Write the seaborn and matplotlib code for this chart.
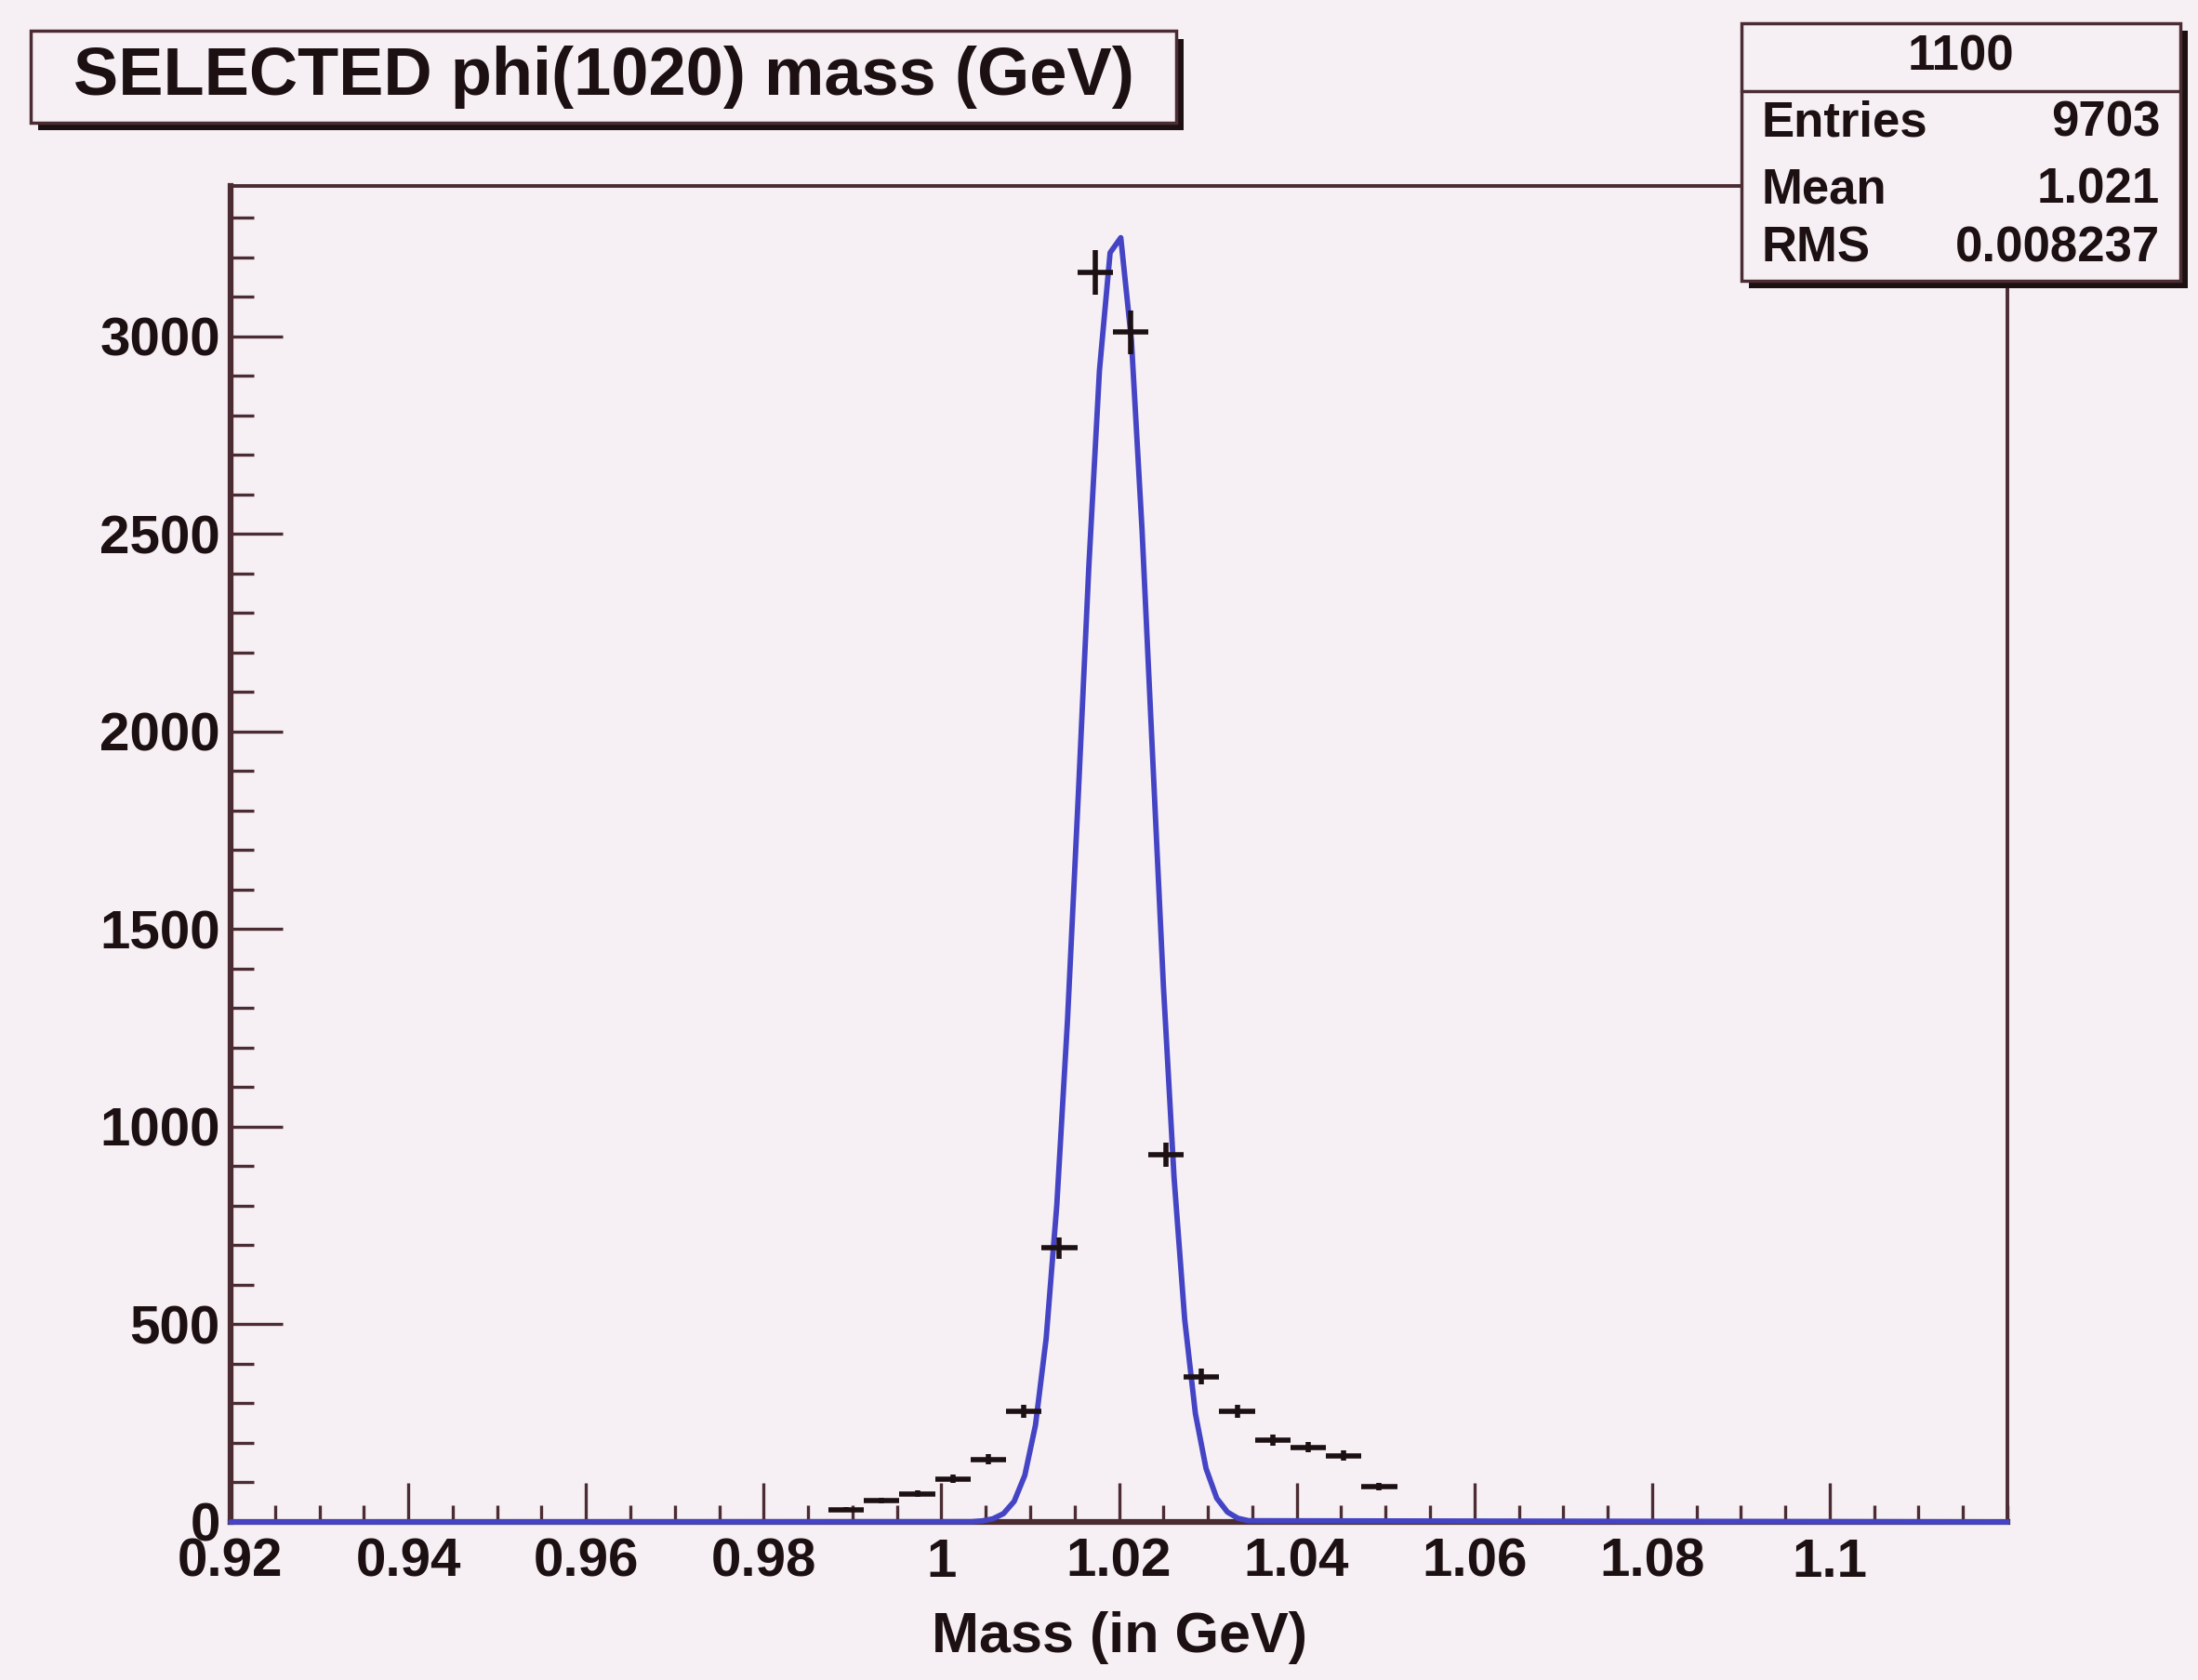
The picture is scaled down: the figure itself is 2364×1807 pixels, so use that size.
import numpy as np
import pandas as pd
import matplotlib
matplotlib.use("Agg")
import matplotlib.pyplot as plt
from matplotlib.patches import Rectangle
from matplotlib.ticker import MultipleLocator
import seaborn as sns

# ---------------- data ----------------
bin_centers = [0.9893, 0.9933, 0.9973, 1.0013, 1.0053, 1.0093, 1.0133, 1.0173,
               1.0213, 1.0253, 1.0293, 1.0333, 1.0373, 1.0413, 1.0453, 1.0493]
bin_counts = [31, 54, 71, 109, 158, 280, 693, 3162,
              3011, 930, 368, 279, 207, 189, 168, 89]
bin_halfwidth = 0.002

curve_x = [0.92, 1.0034, 1.0046, 1.0058, 1.0070, 1.0082, 1.0094, 1.0106, 1.0118,
           1.0130, 1.0142, 1.0154, 1.0166, 1.0178, 1.0190, 1.0202, 1.0214,
           1.0226, 1.0238, 1.0250, 1.0262, 1.0274, 1.0286, 1.0298, 1.0310,
           1.0322, 1.0334, 1.0346, 1.12]
curve_y = [0, 0.5, 2.6, 7.8, 21, 52, 118, 245, 464,
           802, 1268, 1830, 2416, 2914, 3212, 3250, 2990,
           2508, 1929, 1356, 871, 511, 274, 135, 60,
           25, 9, 3, 0]

title_text = "SELECTED phi(1020) mass (GeV)"
xlabel_text = "Mass (in GeV)"
stats_name = "1100"
stats_rows = [("Entries", "9703"), ("Mean", "1.021"), ("RMS", "0.008237")]

xtick_values = [0.92, 0.94, 0.96, 0.98, 1.00, 1.02, 1.04, 1.06, 1.08, 1.10]
xtick_labels = ["0.92", "0.94", "0.96", "0.98", "1", "1.02", "1.04", "1.06", "1.08", "1.1"]
ytick_values = [0, 500, 1000, 1500, 2000, 2500, 3000]

# ---------------- style ----------------
sns.set_theme(style="ticks")
plt.rcParams['font.family'] = ['Liberation Sans', 'DejaVu Sans']
plt.rcParams['font.weight'] = 'bold'

BG = '#f6f0f5'
INK = '#1c1012'
FRAME = '#4a2c32'
BLUE = '#4444c4'

fig = plt.figure(figsize=(23.64, 18.07), dpi=100, facecolor=BG)
ax = fig.add_axes([0.1049, 0.0941, 0.8084, 0.7950], facecolor=BG)

df_curve = pd.DataFrame({"mass": curve_x, "fit": curve_y})
sns.lineplot(data=df_curve, x="mass", y="fit", ax=ax, color=BLUE, lw=4.2,
             estimator=None, sort=False)
for ln in ax.lines:
    ln.set_zorder(6)
    ln.set_clip_on(False)

ax.errorbar(bin_centers, bin_counts, xerr=bin_halfwidth, yerr=np.sqrt(bin_counts),
            fmt='none', ecolor=INK, elinewidth=4.0, capsize=0, zorder=7)

ax.set_xlim(0.92, 1.12)
ax.set_ylim(0, 3380)

# spines
for side in ['top', 'right']:
    ax.spines[side].set_visible(True)
    ax.spines[side].set_color(FRAME)
    ax.spines[side].set_linewidth(2.8)
for side in ['left', 'bottom']:
    ax.spines[side].set_color(FRAME)
    ax.spines[side].set_linewidth(4.5)
    ax.spines[side].set_zorder(2)

ax.set_xticks(xtick_values)
ax.set_xticklabels(xtick_labels)
ax.xaxis.set_minor_locator(MultipleLocator(0.005))
ax.set_yticks(ytick_values)
ax.set_yticklabels([str(v) for v in ytick_values])
ax.yaxis.set_minor_locator(MultipleLocator(100))

ax.tick_params(axis='x', which='major', direction='in', length=30, width=2.4,
               color=FRAME, labelsize=42, labelcolor=INK, pad=12,
               bottom=True, top=False)
ax.tick_params(axis='x', which='minor', direction='in', length=13, width=2.4,
               color=FRAME, bottom=True, top=False)
ax.tick_params(axis='y', which='major', direction='in', length=40, width=2.4,
               color=FRAME, labelsize=42, labelcolor=INK, pad=8,
               left=True, right=False)
ax.tick_params(axis='y', which='minor', direction='in', length=18, width=2.4,
               color=FRAME, left=True, right=False)
for lab in ax.get_xticklabels() + ax.get_yticklabels():
    lab.set_fontweight('bold')

ax.set_xlabel(xlabel_text, fontsize=44, fontweight='bold', color=INK, labelpad=18)
ax.set_ylabel("")
ax.grid(False)

# ---------------- title box ----------------
sh = 0.0034
tb = (0.0140, 0.9270, 0.5212, 0.0545)  # x, y, w, h
fig.patches.append(Rectangle((tb[0] + sh, tb[1] - 0.0045), tb[2], tb[3],
                             transform=fig.transFigure, facecolor=INK,
                             edgecolor='none', zorder=1))
fig.patches.append(Rectangle((tb[0], tb[1]), tb[2], tb[3],
                             transform=fig.transFigure, facecolor=BG,
                             edgecolor=FRAME, lw=2.5, zorder=2))
fig.text(tb[0] + tb[2] / 2, tb[1] + tb[3] / 2, title_text, ha='center', va='center',
         fontsize=52, fontweight='bold', color=INK, zorder=3)

# ---------------- stats box ----------------
sb = (0.7923, 0.8330, 0.1997, 0.1532)
fig.patches.append(Rectangle((sb[0] + sh, sb[1] - 0.0045), sb[2], sb[3],
                             transform=fig.transFigure, facecolor=INK,
                             edgecolor='none', zorder=5))
fig.patches.append(Rectangle((sb[0], sb[1]), sb[2], sb[3],
                             transform=fig.transFigure, facecolor=BG,
                             edgecolor=FRAME, lw=2.5, zorder=6))
fig.add_artist(plt.Line2D([sb[0], sb[0] + sb[2]], [0.9458, 0.9458],
                          transform=fig.transFigure, color=FRAME, lw=2.5, zorder=7))
fig.text(sb[0] + sb[2] / 2, 0.9657, stats_name, ha='center', va='center',
         fontsize=38, fontweight='bold', color=INK, zorder=8)
row_y = [0.9265, 0.8870, 0.8517]
for (name, val), yy in zip(stats_rows, row_y):
    fig.text(0.8016, yy, name, ha='left', va='center', fontsize=38,
             fontweight='bold', color=INK, zorder=8)
    fig.text(0.9827, yy, val, ha='right', va='center', fontsize=38,
             fontweight='bold', color=INK, zorder=8)

fig.savefig("out.png", dpi=100, facecolor=BG)
